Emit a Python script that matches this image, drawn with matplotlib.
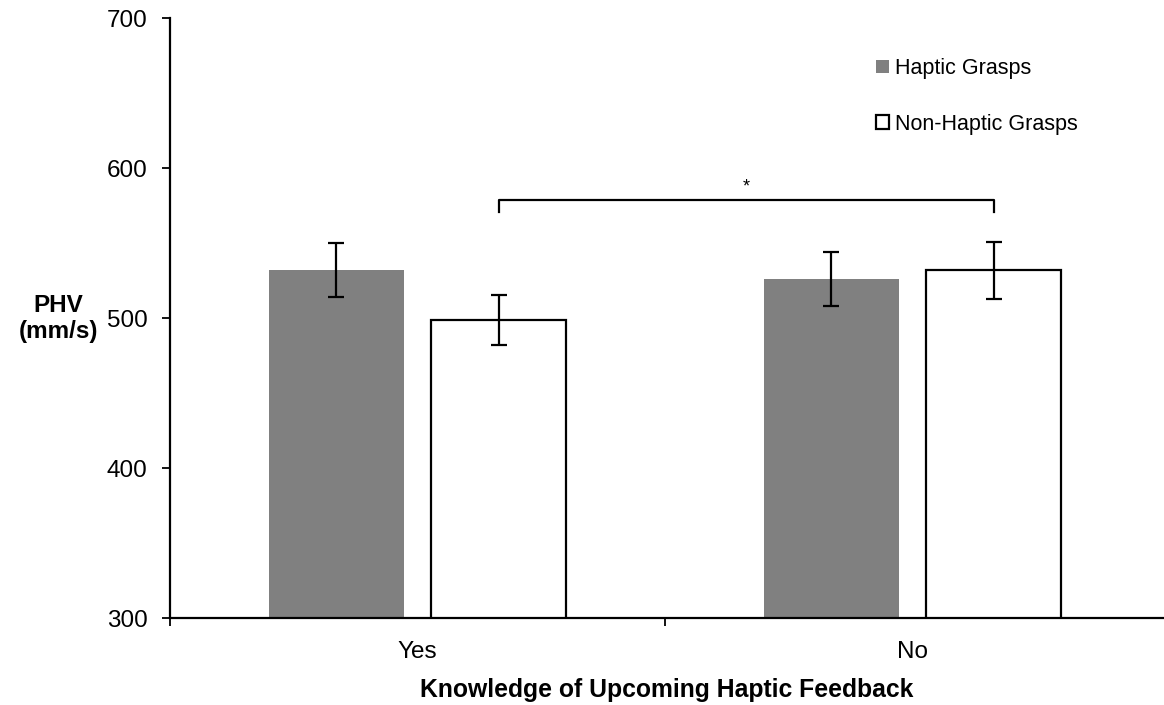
import numpy as np
import matplotlib.pyplot as plt

plt.rcParams['font.family'] = ['Liberation Sans', 'DejaVu Sans']

# mean peak hand velocity and standard error per condition
conditions = ["Yes", "No"]
haptic = [532, 526]
haptic_err = [18, 18]
nonhaptic = [499, 532]
nonhaptic_err = [16.5, 19]

x = np.arange(len(conditions))
w = 0.273
off = 0.164

fig = plt.figure(figsize=(11.64, 7.05), dpi=100)
ax = fig.add_axes([0.146, 0.123, 0.854, 0.851])

ax.bar(x - off, haptic, w, color='#808080', label='Haptic Grasps', zorder=2)
ax.bar(x + off, nonhaptic, w, color='white', edgecolor='black', linewidth=1.6,
       label='Non-Haptic Grasps', zorder=2)
ax.errorbar(x - off, haptic, yerr=haptic_err, fmt='none', ecolor='black',
            elinewidth=1.6, capsize=6, capthick=1.6, zorder=3)
ax.errorbar(x + off, nonhaptic, yerr=nonhaptic_err, fmt='none', ecolor='black',
            elinewidth=1.6, capsize=6, capthick=1.6, zorder=3)

# significance bracket between the non-haptic bars
bx = [x[0] + off, x[0] + off, x[1] + off, x[1] + off]
ax.plot(bx, [571, 579, 579, 571], color='black', lw=1.6, zorder=3)
ax.text((x[0] + x[1]) / 2 + off, 582, '*', ha='center', va='bottom', fontsize=13)

ax.set_xlim(-0.5, 1.508)
ax.set_ylim(300, 700)
ax.set_yticks([300, 400, 500, 600, 700])
ax.set_xticks(x)
ax.set_xticklabels(conditions)
ax.set_xticks([-0.5, 0.5], minor=True)
ax.tick_params(axis='x', which='major', length=0, pad=16, labelsize=17.5)
ax.tick_params(axis='x', which='minor', length=6, width=1.3)
ax.tick_params(axis='y', length=6, width=1.3, labelsize=17.5, pad=10)

for s in ['top', 'right']:
    ax.spines[s].set_visible(False)
for s in ['left', 'bottom']:
    ax.spines[s].set_linewidth(1.6)

ax.set_xlabel('Knowledge of Upcoming Haptic Feedback', fontsize=17.8,
              fontweight='bold', labelpad=11)
ax.set_ylabel('PHV\n(mm/s)', fontsize=17.5, fontweight='bold', rotation=0,
              ha='center', va='center')
ax.yaxis.set_label_coords(-0.112, 0.5)

ax.legend(loc='upper left', bbox_to_anchor=(0.702, 0.948), frameon=False,
          fontsize=15.5, handlelength=0.6, handleheight=0.6, handletextpad=0.25,
          labelspacing=1.6, borderaxespad=0)

fig.savefig('out.png', dpi=100)
